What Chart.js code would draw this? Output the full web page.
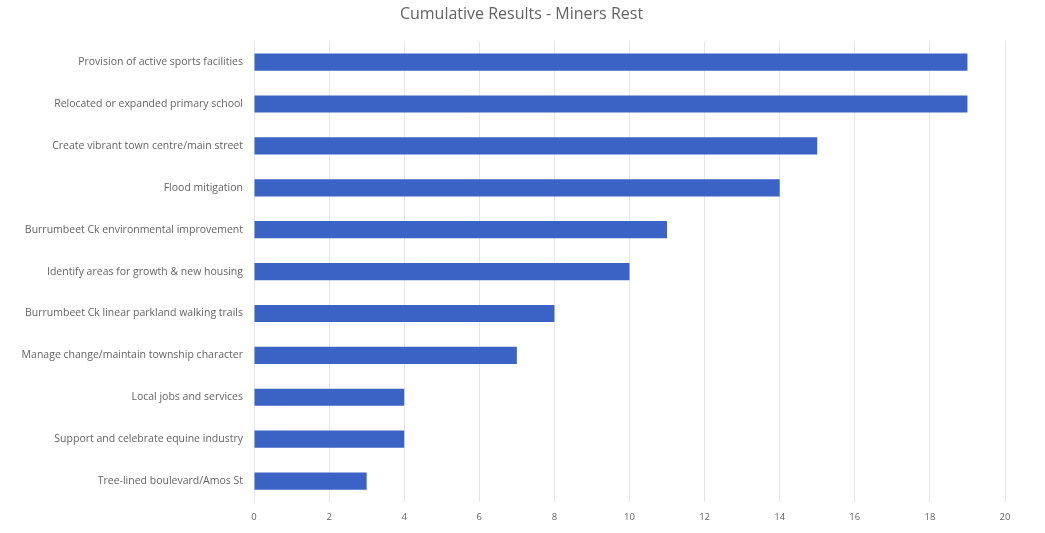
<!DOCTYPE html>
<html>
<head>
<meta charset="utf-8">
<script src="https://cdn.jsdelivr.net/npm/chart.js@4/dist/chart.umd.min.js"></script>
<style>
  html, body { margin: 0; padding: 0; background: #ffffff; }
  #wrap { width: 1045px; height: 533px; position: relative; }
</style>
</head>
<body>
<div id="wrap"><canvas id="chart"></canvas></div>
<script>
// categories, top to bottom
const categories = [
  'Provision of active sports facilities',
  'Relocated or expanded primary school',
  'Create vibrant town centre/main street',
  'Flood mitigation',
  'Burrumbeet Ck environmental improvement',
  'Identify areas for growth & new housing',
  'Burrumbeet Ck linear parkland walking trails',
  'Manage change/maintain township character',
  'Local jobs and services',
  'Support and celebrate equine industry',
  'Tree-lined boulevard/Amos St'
];
const votes = [19, 19, 15, 14, 11, 10, 8, 7, 4, 4, 3];
const xTicks = [0, 2, 4, 6, 8, 10, 12, 14, 16, 18, 20];

// nudge the title centre a bit right, like the original
const shiftTitle = {
  id: 'shiftTitle',
  afterLayout(chart) {
    if (chart.titleBlock) chart.titleBlock.left = 38;
  }
};

const ctx = document.getElementById('chart').getContext('2d');
new Chart(ctx, {
  type: 'bar',
  data: {
    labels: categories,
    datasets: [{
      label: 'Cumulative Results',
      data: votes,
      backgroundColor: '#3b63c5',
      borderWidth: 0,
      categoryPercentage: 1,
      barPercentage: 0.41
    }]
  },
  plugins: [shiftTitle],
  options: {
    indexAxis: 'y',
    responsive: true,
    maintainAspectRatio: false,
    animation: false,
    layout: { padding: { left: 0, right: 40, top: 0, bottom: 0 } },
    plugins: {
      legend: { display: false },
      tooltip: { enabled: false },
      title: {
        display: true,
        text: 'Cumulative Results - Miners Rest',
        color: '#636363',
        font: { family: 'Open Sans', size: 16, weight: 'normal' },
        padding: { top: 5, bottom: 17 }
      }
    },
    scales: {
      x: {
        min: xTicks[0],
        max: xTicks[xTicks.length - 1],
        afterBuildTicks: axis => { axis.ticks = xTicks.map(v => ({ value: v })); },
        grid: { color: '#e6e6e6', drawTicks: false },
        border: { display: false },
        ticks: {
          color: '#636363',
          padding: 10,
          font: { family: 'Open Sans', size: 9.5 }
        },
        afterFit: axis => { axis.height = 31; }
      },
      y: {
        grid: { display: false },
        border: { display: true, color: '#e6e6e6' },
        ticks: {
          color: '#636363',
          padding: 3,
          autoSkip: false,
          font: { family: 'Open Sans', size: 10.5 }
        },
        afterFit: axis => { axis.width = 254; }
      }
    }
  }
});
</script>
</body>
</html>
